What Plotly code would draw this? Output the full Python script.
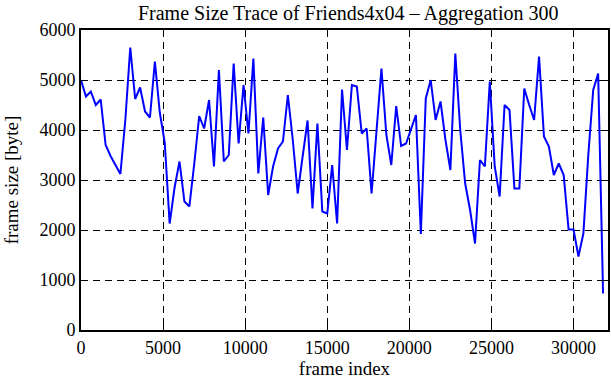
import plotly.graph_objects as go

aggregation = 300
frame_index = list(range(0, 31801, aggregation))
frame_size = [
    5000, 4670, 4770, 4500, 4610, 3700, 3480, 3300, 3120, 4200,
    5650, 4620, 4850, 4370, 4250, 5370, 4350, 3750, 2130, 2850,
    3370, 2570, 2470, 3330, 4280, 4030, 4600, 3270, 5200, 3370,
    3500, 5330, 3730, 4900, 3930, 5430, 3130, 4250, 2700, 3270,
    3630, 3770, 4700, 3800, 2730, 3470, 4190, 2430, 4130, 2370,
    2330, 3300, 2130, 4810, 3600, 4900, 4870, 3930, 4030, 2730,
    4000, 5230, 3900, 3300, 4480, 3680, 3730, 4000, 4300, 1920,
    4630, 5000, 4200, 4570, 3800, 3200, 5530, 4000, 2930, 2400,
    1730, 3400, 3270, 4970, 3270, 2670, 4500, 4400, 2830, 2830,
    4830, 4500, 4200, 5470, 3870, 3670, 3100, 3330, 3100, 2010,
    2010, 1470, 1930, 3500, 4800, 5130, 730,
]
x_ticks = [0, 5000, 10000, 15000, 20000, 25000, 30000]
y_ticks = [0, 1000, 2000, 3000, 4000, 5000, 6000]

font = "Liberation Serif"

fig = go.Figure()
fig.add_trace(go.Scatter(
    x=frame_index, y=frame_size, mode="lines",
    line=dict(color="#0000ff", width=2),
    showlegend=False,
))

axis_common = dict(
    showline=True, linecolor="black", linewidth=2, mirror="ticks",
    ticks="inside", ticklen=7, tickwidth=1, tickcolor="black",
    showgrid=True, gridcolor="black", gridwidth=1, griddash="7px,5px",
    zeroline=False, automargin=False,
    tickfont=dict(family=font, size=18, color="black"),
)

fig.update_layout(
    width=611, height=380,
    margin=dict(l=81, r=3, t=30, b=50, autoexpand=False),
    paper_bgcolor="white", plot_bgcolor="white",
    title=dict(
        text="Frame Size Trace of Friends4x04 \u2013 Aggregation 300",
        font=dict(family=font, size=20, color="black"),
        x=0.507, xanchor="center", xref="paper",
        y=0.966, yanchor="middle", yref="container",
        automargin=False,
    ),
    xaxis=dict(
        range=[0, 32100], tickvals=x_ticks,
        ticktext=[str(v) for v in x_ticks],
        title=dict(text="frame index", font=dict(family=font, size=19, color="black"), standoff=2),
        **axis_common,
    ),
    yaxis=dict(
        range=[0, 6000], tickvals=y_ticks,
        ticktext=[str(v) for v in y_ticks],
        title=dict(text="frame size [byte]", font=dict(family=font, size=19, color="black"), standoff=16),
        **axis_common,
    ),
)

fig.write_html(
    "out.html",
    config={"displayModeBar": False},
    post_script="document.body.style.margin='0';document.body.style.padding='0';",
)
